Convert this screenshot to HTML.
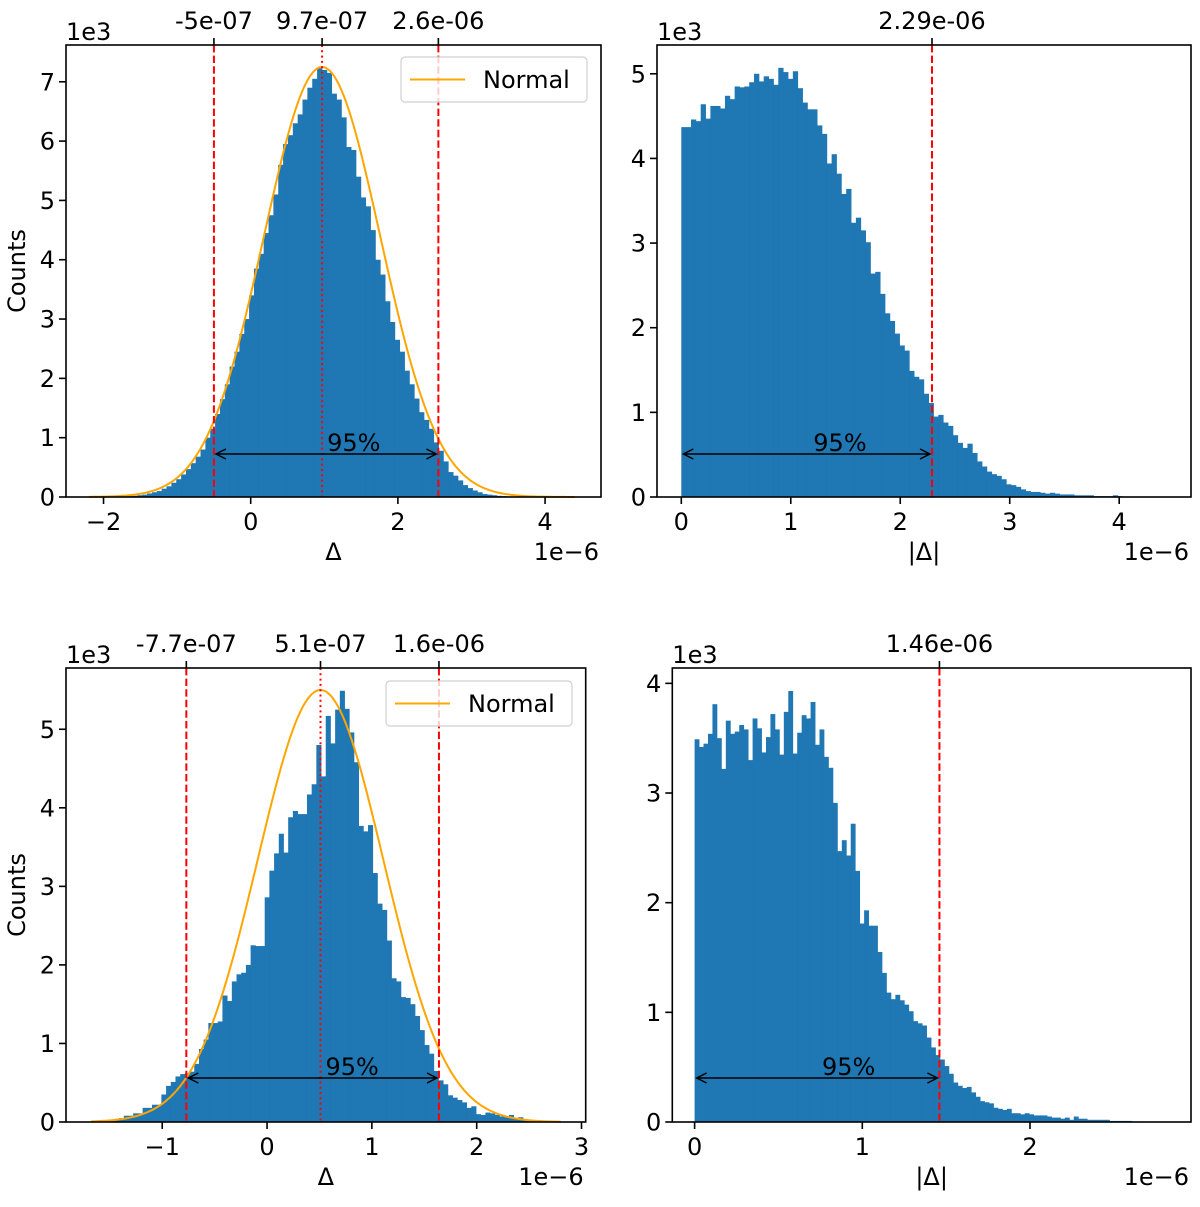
<!DOCTYPE html>
<html><head><meta charset="utf-8">
<style>
body{margin:0;background:#fff;}
svg{display:block;font-family:"DejaVu Sans","Liberation Sans",sans-serif;}
</style></head>
<body>
<svg id="fig" width="1200" height="1207" viewBox="0 0 1200 1207" xmlns="http://www.w3.org/2000/svg"></svg>
<script>
// ---- data (counts in units of 1e3; x in units of 1e-6) ----
const tlCounts = [0.005,0.005,0.005,0.005,0.005,0.005,0.01,0.01,0.015,0.02,
0.03,0.04,0.06,0.08,0.1,0.14,0.18,0.24,0.3,0.38,
0.47,0.57,0.68,0.8,1.0,1.15,1.4,1.65,1.9,2.2,
2.45,2.75,3.0,3.4,3.85,4.1,4.45,4.75,5.1,5.6,
5.95,6.1,6.3,6.45,6.7,6.9,7.05,7.23,7.2,7.15,
6.8,6.7,6.4,5.9,5.85,5.4,5.05,4.9,4.5,4.0,
3.75,3.3,2.95,2.65,2.45,2.13,1.9,1.66,1.43,1.3,
1.15,0.92,0.78,0.6,0.42,0.36,0.28,0.2,0.15,0.11,
0.08,0.05,0.04,0.03,0.02,0.015,0.01,0.008,0.006,0.005,
0.004,0.003,0.003,0.002,0.002,0.001,0.001,0.001,0,0.001];
const tlBins = [-2.2, 0.066];
const tlNormal = [0.97, 0.79, 7.25, -2.2, 4.4];
const tlLines = [-0.5, 0.97, 2.55];
const tlLineLabels = ["-5e-07","9.7e-07","2.6e-06"];
const tlXTicks = [-2,0,2,4];
const tlYTicks = [0,1,2,3,4,5,6,7];

const trCounts = [4.37,4.37,4.46,4.44,4.64,4.47,4.62,4.62,4.59,4.74,
4.7,4.85,4.84,4.85,4.9,5.0,4.91,4.97,4.94,4.87,
5.07,5.02,4.94,5.03,4.83,4.66,4.58,4.58,4.39,4.29,
3.94,4.05,3.82,3.58,3.64,3.24,3.3,3.15,3.01,2.64,
2.66,2.4,2.17,2.08,1.93,1.79,1.73,1.49,1.42,1.39,
1.22,1.11,0.95,0.97,0.88,0.84,0.73,0.64,0.58,0.63,
0.52,0.42,0.36,0.3,0.27,0.25,0.21,0.15,0.14,0.12,
0.09,0.07,0.06,0.06,0.05,0.04,0.05,0.04,0.03,0.03,
0.03,0.02,0.02,0.02,0.02,0.01,0.01,0.01,0.01,0.02,
0.01,0.005,0.003,0.002,0.002,0.001,0.001,0.001,0,0.001];
const trBins = [0, 0.0443];
const trLines = [2.29];
const trLineLabels = ["2.29e-06"];
const trXTicks = [0,1,2,3,4];
const trYTicks = [0,1,2,3,4,5];

const blCounts = [0,0.01,0.01,0.02,0.03,0.04,0.05,0.08,0.08,0.11,
0.11,0.18,0.18,0.22,0.22,0.35,0.46,0.51,0.58,0.61,
0.62,0.64,0.74,0.93,1.05,1.26,1.26,1.28,1.61,1.54,
1.79,1.88,1.9,2.0,2.25,2.24,2.24,2.86,3.2,3.42,
3.67,3.43,3.88,3.96,3.92,3.92,4.17,4.3,4.8,4.4,
5.17,4.82,5.25,5.49,5.26,4.96,4.58,3.77,3.7,3.78,
3.17,2.78,2.7,2.31,1.83,1.79,1.59,1.58,1.5,1.35,
1.17,0.98,0.87,0.65,0.53,0.48,0.34,0.31,0.28,0.25,
0.18,0.2,0.1,0.09,0.12,0.11,0.09,0.07,0.06,0.09,
0.04,0.06,0.03,0.02,0.02,0.01,0.01,0.01,0,0.01];
const blBins = [-1.68, 0.0448];
const blNormal = [0.51, 0.6, 5.5, -1.68, 2.8];
const blLines = [-0.77, 0.51, 1.64];
const blLineLabels = ["-7.7e-07","5.1e-07","1.6e-06"];
const blXTicks = [-1,0,1,2,3];
const blYTicks = [0,1,2,3,4,5];

const brCounts = [3.49,3.42,3.45,3.54,3.81,3.5,3.22,3.66,3.54,3.56,
3.62,3.58,3.3,3.68,3.59,3.37,3.51,3.72,3.58,3.35,
3.74,3.93,3.36,3.55,3.71,3.68,3.83,3.44,3.58,3.33,
3.23,2.91,2.47,2.57,2.43,2.72,2.29,1.81,1.93,1.79,
1.79,1.55,1.36,1.18,1.12,1.16,1.11,1.07,1.01,0.92,
0.9,0.88,0.77,0.68,0.61,0.57,0.51,0.44,0.36,0.33,
0.31,0.32,0.27,0.23,0.19,0.18,0.17,0.13,0.12,0.11,
0.12,0.08,0.08,0.07,0.08,0.07,0.06,0.06,0.06,0.05,
0.04,0.04,0.03,0.04,0.02,0.05,0.03,0.03,0.02,0.02,
0.02,0.02,0.02,0.01,0.01,0.01,0.01,0.01,0.005,0.005];
const brBins = [0, 0.0266];
const brLines = [1.46];
const brLineLabels = ["1.46e-06"];
const brXTicks = [0,1,2];
const brYTicks = [0,1,2,3,4];

const NS = "http://www.w3.org/2000/svg";
const FS = 24;
const svg = document.getElementById('fig');
function mk(tag, attrs, parent){
  const e = document.createElementNS(NS, tag);
  for (const k in attrs) e.setAttribute(k, attrs[k]);
  (parent||svg).appendChild(e);
  return e;
}
function fmt(v){ return (v<0?"\u2212":"")+Math.abs(v); }

function panel(id, fr, xlim, ylim, counts, bins, normal, lines, lineLabels, xticks, yticks, xlab, showY, arrowY, pctX, legendBox){
  const g = mk('g', {});
  
  
  const sx = v => fr[0] + (v - xlim[0]) / (xlim[1]-xlim[0]) * (fr[1]-fr[0]);
  const sy = v => fr[3] - (v - ylim[0]) / (ylim[1]-ylim[0]) * (fr[3]-fr[2]);
  const bg = mk('g', {}, g);
  
  
  counts.forEach((c,i)=>{
    const x0 = sx(bins[0]+bins[1]*i), x1 = sx(bins[0]+bins[1]*(i+1));
    const y = sy(c);
    const r = mk('rect', {x:x0, y:y, width:(x1-x0)+0.4, height:Math.max(0,fr[3]-y), fill:'#1f77b4'}, bg);
    
    
  });
  if (normal){
    let d = '';
    const n = 200;
    for (let k=0;k<=n;k++){
      const x = normal[3] + (normal[4]-normal[3])*k/n;
      const y = normal[2]*Math.exp(-Math.pow(x-normal[0],2)/(2*normal[1]*normal[1]));
      d += (k?'L':'M') + sx(x).toFixed(2) + ',' + sy(y).toFixed(2);
    }
    const p = mk('path', {d:d, fill:'none', stroke:'#ffa500', 'stroke-width':2}, g);
    
    
  }
  lines.forEach((v,i)=>{
    const x = sx(v);
    const dotted = (lines.length===3 && i===1);
    const l = mk('line', {x1:x, x2:x, y1:fr[2], y2:fr[3], stroke:'#ff0000', 'stroke-width':2, 'stroke-dasharray': dotted ? '2,3.3' : '7.4,3.2'}, g);
    
    
    mk('line', {x1:x, x2:x, y1:fr[2], y2:fr[2]-7, stroke:'#000', 'stroke-width':1.6}, g);
    const t = mk('text', {x:x, y:fr[2]-16, 'font-size':FS, 'text-anchor':'middle', fill:'#000'}, g);
    t.textContent = lineLabels[i];
    
    
  });
  const a0 = sx(lines.length===3 ? lines[0] : 0), a1 = sx(lines[lines.length-1]);
  const ar = mk('path', {d:`M${a0+2},${arrowY}L${a1-2},${arrowY}M${a0+12},${arrowY-5}L${a0+2},${arrowY}L${a0+12},${arrowY+5}M${a1-12},${arrowY-5}L${a1-2},${arrowY}L${a1-12},${arrowY+5}`, fill:'none', stroke:'#000', 'stroke-width':1.4}, g);
  
  
  const pt = mk('text', {x:sx(pctX)+5, y:arrowY-3, 'font-size':FS, fill:'#000'}, g);
  pt.textContent = '95%';
  
  
  const f = mk('rect', {x:fr[0], y:fr[2], width:fr[1]-fr[0], height:fr[3]-fr[2], fill:'none', stroke:'#000', 'stroke-width':1.6}, g);
  
  
  xticks.forEach(v=>{
    const x = sx(v);
    mk('line', {x1:x, x2:x, y1:fr[3], y2:fr[3]+7, stroke:'#000', 'stroke-width':1.6}, g);
    const t = mk('text', {x:x, y:fr[3]+33, 'font-size':FS, 'text-anchor':'middle', fill:'#000'}, g);
    t.textContent = fmt(v);
    
    
  });
  yticks.forEach(v=>{
    const y = sy(v);
    mk('line', {x1:fr[0]-7, x2:fr[0], y1:y, y2:y, stroke:'#000', 'stroke-width':1.6}, g);
    const t = mk('text', {x:fr[0]-11, y:y+8.5, 'font-size':FS, 'text-anchor':'end', fill:'#000'}, g);
    t.textContent = fmt(v);
    
    
  });
  const off = mk('text', {x:fr[0], y:fr[2]-5, 'font-size':FS, fill:'#000'}, g);
  off.textContent = '1e3';
  
  
  const xo = mk('text', {x:fr[1]-2, y:fr[3]+63, 'font-size':FS, 'text-anchor':'end', fill:'#000'}, g);
  xo.textContent = '1e\u22126';
  
  
  const xl = mk('text', {x:(fr[0]+fr[1])/2, y:fr[3]+63, 'font-size':FS, 'text-anchor':'middle', fill:'#000'}, g);
  xl.textContent = xlab;
  
  
  if (showY){
    const cy = (fr[2]+fr[3])/2;
    const yl = mk('text', {x:25, y:cy, 'font-size':FS, 'text-anchor':'middle', fill:'#000', transform:`rotate(-90 25 ${cy})`}, g);
    yl.textContent = 'Counts';
    
    
  }
  if (legendBox){
    const lg = mk('g', {}, g);
    
    
    const [bx,by] = legendBox;
    mk('rect', {x:bx, y:by, width:186, height:45, rx:4, fill:'#fff', 'fill-opacity':0.8, stroke:'#d0d0d0', 'stroke-width':1.2}, lg);
    mk('line', {x1:bx+9, x2:bx+64, y1:by+22.5, y2:by+22.5, stroke:'#ffa500', 'stroke-width':2}, lg);
    const lt = mk('text', {x:bx+82, y:by+31, 'font-size':FS, fill:'#000'}, lg);
    lt.textContent = 'Normal';
    
    
  }
}

panel('top-left', [66,601,45,497], [-2.51,4.76], [0,7.62], tlCounts, tlBins, tlNormal, tlLines, tlLineLabels, tlXTicks, tlYTicks, '\u0394', true, 454, 0.97, [401,57]);
panel('top-right', [657,1191,45,497], [-0.222,4.656], [0,5.34], trCounts, trBins, null, trLines, trLineLabels, trXTicks, trYTicks, '|\u0394|', false, 454, 1.16, null);
panel('bottom-left', [66,585.7,668,1122], [-1.918,3.04], [0,5.78], blCounts, blBins, blNormal, blLines, blLineLabels, blXTicks, blYTicks, '\u0394', true, 1078, 0.51, [386,681]);
panel('bottom-right', [672.3,1191,668,1122], [-0.133,2.96], [0,4.14], brCounts, brBins, null, brLines, brLineLabels, brXTicks, brYTicks, '|\u0394|', false, 1078, 0.73, null);
</script>
</body></html>
